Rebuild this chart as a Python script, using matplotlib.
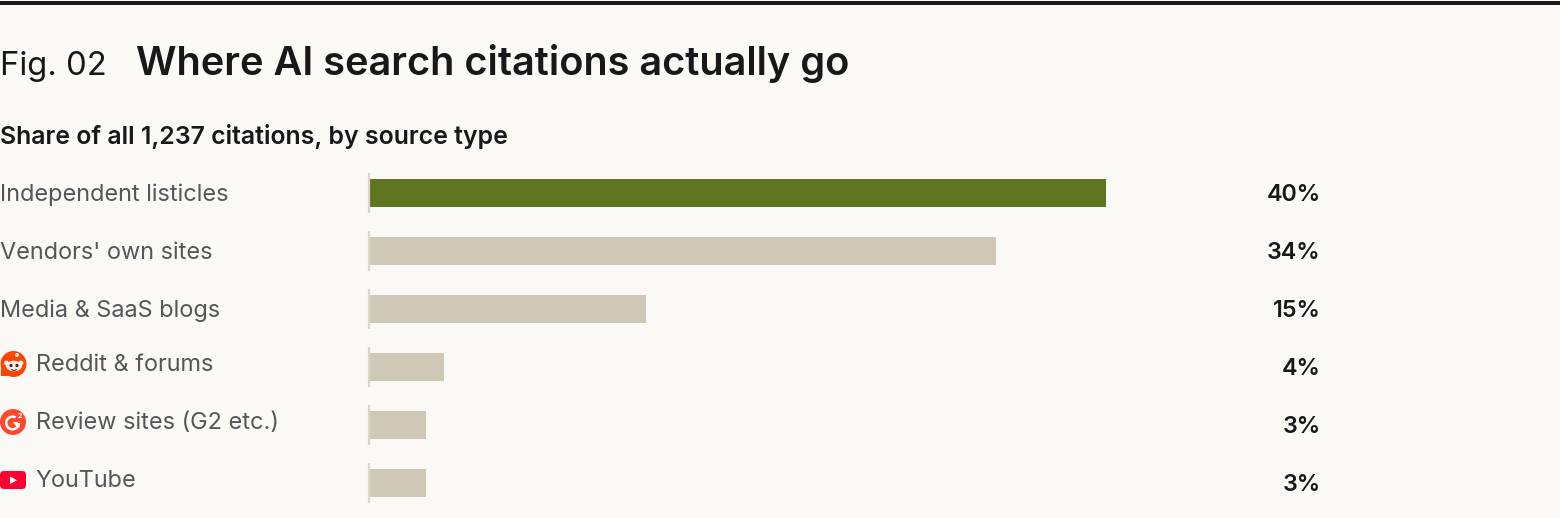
import matplotlib.pyplot as plt
from matplotlib.patches import Circle, FancyBboxPatch, Polygon, Ellipse, Wedge
from matplotlib.transforms import ScaledTranslation

plt.rcParams["font.family"] = ["Inter", "DejaVu Sans"]

categories = ["Independent listicles", "Vendors' own sites", "Media & SaaS blogs",
              "Reddit & forums", "Review sites (G2 etc.)", "YouTube"]
shares = [40, 34, 15, 4, 3.05, 3.05]
bar_colors = ["#5f7420", "#d0c8b6", "#d0c8b6", "#d0c8b6", "#d0c8b6", "#d0c8b6"]
label_ys = [192.6, 250.6, 308.6, 362.6, 420.6, 478.6]
label_lefts = [0, 0, 0, 36, 36, 35]

BG = "#faf9f5"
INK = "#18181a"
GREY = "#55555a"
W, H = 1560, 518

fig = plt.figure(figsize=(W / 100, H / 100), dpi=100, facecolor=BG)

# overlay in pixel coordinates, for the text and the small logos
over = fig.add_axes([0, 0, 1, 1])
over.set_xlim(0, W)
over.set_ylim(H, 0)
over.axis("off")

# bars: 0-40% spans x 370-1106, rows are 58px apart
ax = fig.add_axes([370 / W, (H - 512) / H, 736 / W, 348 / H])
ax.set_xlim(0, 40)
ax.set_ylim(5.5, -0.5)
ax.axis("off")
ax.patch.set_alpha(0)
ax.barh(range(len(shares)), shares, height=28 / 58, color=bar_colors, clip_on=False)
tick_shift = ax.transData + ScaledTranslation(-1.2 / 100, 0, fig.dpi_scale_trans)
for i in range(len(shares)):
    # small tick at the base of each bar
    ax.plot([0, 0], [i - 20 / 58, i + 20 / 58], color="#dcd6c8", lw=1.6,
            solid_capstyle="butt", clip_on=False, transform=tick_shift)
    over.text(1320.5, 192.8 + 58 * i, f"{round(shares[i])}%", ha="right", va="center_baseline",
              fontsize=16.8, fontweight="semibold", color=INK)
    over.text(label_lefts[i], label_ys[i], categories[i], ha="left", va="center_baseline",
              fontsize=16.9, color=GREY)

# top rule and headings
over.fill_between([0, W], 1, 4.5, color=INK, lw=0)
over.text(0, 63, "Fig. 02", fontsize=23.6, fontweight="normal", color=INK, va="center_baseline")
over.text(136, 59.5, "Where AI search citations actually go", fontsize=28.6, fontweight="semibold",
          color=INK, va="center_baseline")
over.text(0, 134, "Share of all 1,237 citations, by source type", fontsize=17.9, fontweight="semibold",
          color=INK, va="center_baseline")

# reddit logo
over.add_patch(Circle((13.5, 364), 13, color="#ff4500", lw=0))
over.add_patch(Polygon([[1, 368], [1, 376], [10, 376]], color="#ff4500", lw=0))
over.add_patch(Circle((6.5, 363), 2.4, color="#fbeee8", lw=0))
over.add_patch(Circle((21, 363), 2.4, color="#fbeee8", lw=0))
over.add_patch(Ellipse((14, 366), 16, 10.5, color="#fbeee8", lw=0))
over.add_patch(Circle((11, 365.5), 1.6, color="#5a2010", lw=0))
over.add_patch(Circle((17, 365.5), 1.6, color="#5a2010", lw=0))
over.add_patch(Wedge((14, 368), 3, 20, 160, width=1, color="#5a2010", lw=0))
over.add_patch(Circle((17, 355), 2, color="#fbeee8", lw=0))

# g2 logo
over.add_patch(Circle((13, 422), 13, color="#ff492c", lw=0))
over.add_patch(Wedge((12.5, 423), 7.5, 0, 300, width=2.4, color="white", lw=0))
over.add_patch(Polygon([[13, 422], [17.5, 422], [20, 427], [17.5, 428]], color="white", lw=0))
over.text(19.5, 416, "2", fontsize=5, fontweight="bold", color="white", ha="center", va="center_baseline")

# youtube logo
over.add_patch(FancyBboxPatch((0, 471), 26, 18, boxstyle="round,pad=0,rounding_size=4",
                              color="#ff0033", lw=0))
over.add_patch(Polygon([[10, 476.5], [10, 484], [17, 480.2]], color="white", lw=0))

fig.savefig("out.png", dpi=100, facecolor=BG)
